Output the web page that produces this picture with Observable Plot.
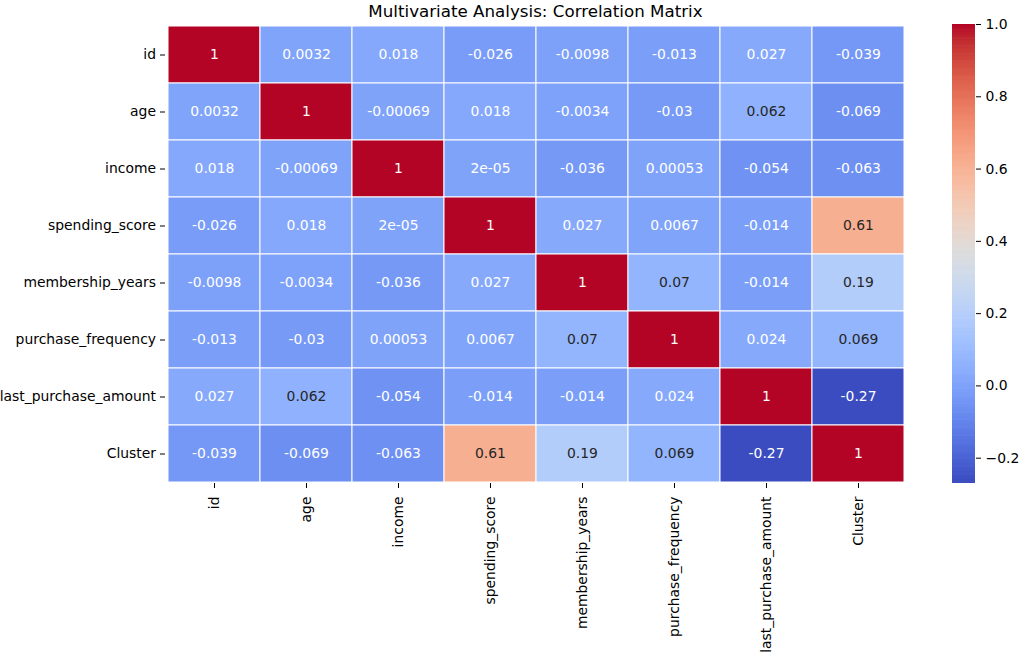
<!DOCTYPE html>
<html>
<head>
<meta charset="utf-8">
<script src="https://cdn.jsdelivr.net/npm/d3@7"></script>
<script src="https://cdn.jsdelivr.net/npm/@observablehq/plot@0.6"></script>
<style>
  html, body { margin: 0; padding: 0; background: white; }
  #wrap { position: relative; width: 1024px; height: 660px; overflow: hidden; font-family: "DejaVu Sans", sans-serif; }
  #wrap > * { position: absolute; }
  #title { left: 165px; width: 741px; top: 3px; text-align: center; font-size: 16.7px; line-height: 1; color: #000; }
</style>
</head>
<body>
<div id="wrap">
  <div id="title">Multivariate Analysis: Correlation Matrix</div>
</div>
<script>
const variables = ["id", "age", "income", "spending_score", "membership_years", "purchase_frequency", "last_purchase_amount", "Cluster"];

const rowId          = [1, 0.0032, 0.018, -0.026, -0.0098, -0.013, 0.027, -0.039];
const rowAge         = [0.0032, 1, -0.00069, 0.018, -0.0034, -0.03, 0.062, -0.069];
const rowIncome      = [0.018, -0.00069, 1, 2e-05, -0.036, 0.00053, -0.054, -0.063];
const rowSpending    = [-0.026, 0.018, 2e-05, 1, 0.027, 0.0067, -0.014, 0.61];
const rowMembership  = [-0.0098, -0.0034, -0.036, 0.027, 1, 0.07, -0.014, 0.19];
const rowFrequency   = [-0.013, -0.03, 0.00053, 0.0067, 0.07, 1, 0.024, 0.069];
const rowLastAmount  = [0.027, 0.062, -0.054, -0.014, -0.014, 0.024, 1, -0.27];
const rowCluster     = [-0.039, -0.069, -0.063, 0.61, 0.19, 0.069, -0.27, 1];

const colorbarTicks = [-0.2, 0.0, 0.2, 0.4, 0.6, 0.8, 1.0];

// matplotlib "coolwarm" control points (33 evenly spaced stops)
const cwRed = [0.2298057, 0.26623388, 0.30386891, 0.342804478, 0.38301334, 0.424369608, 0.46666708, 0.509635204, 0.552953156, 0.596262162, 0.639176211, 0.681291281, 0.722193294, 0.761464949, 0.798691636, 0.833466556, 0.865395197, 0.897787179, 0.924127593, 0.944468518, 0.958852946, 0.96732803, 0.969954137, 0.966811177, 0.958003065, 0.943660866, 0.923944917, 0.89904617, 0.869186849, 0.834620542, 0.795631745, 0.752534934, 0.705673158];
const cwGreen = [0.298717966, 0.353094838, 0.406535296, 0.458757618, 0.50941904, 0.558148092, 0.604562568, 0.648280772, 0.688929332, 0.726149107, 0.759599947, 0.788964712, 0.813952739, 0.834302879, 0.849786142, 0.860207984, 0.86541021, 0.848937047, 0.827384882, 0.800927443, 0.769767752, 0.734132809, 0.694266682, 0.650421156, 0.602842431, 0.551750968, 0.49730856, 0.439559467, 0.378313092, 0.312874446, 0.24128379, 0.157246067, 0.01555616];
const cwBlue = [0.753683153, 0.801466763, 0.84495867, 0.883725899, 0.917387822, 0.945619588, 0.968154911, 0.98478814, 0.995375608, 0.999836203, 0.998151185, 0.990363227, 0.976574709, 0.956945269, 0.931688648, 0.901068838, 0.865395561, 0.820880546, 0.774508472, 0.726736146, 0.678007945, 0.628751763, 0.579375448, 0.530263762, 0.481775914, 0.434243684, 0.387970225, 0.343229596, 0.300267182, 0.259301199, 0.220525627, 0.184115123, 0.150232812];

const matrix = [rowId, rowAge, rowIncome, rowSpending, rowMembership, rowFrequency, rowLastAmount, rowCluster];
const cells = [];
matrix.forEach((row, i) => row.forEach((v, j) => cells.push({x: variables[j], y: variables[i], v})));

const vmin = d3.min(cells, d => d.v), vmax = d3.max(cells, d => d.v);

function cwRGB(t) {
  // quantize to a 256-entry lookup table like matplotlib
  const idx = Math.max(0, Math.min(255, Math.floor(t * 256)));
  const u = idx / 255;
  const p = u * (cwRed.length - 1);
  const k = Math.min(cwRed.length - 2, Math.floor(p));
  const f = p - k;
  const lerp = arr => arr[k] + (arr[k + 1] - arr[k]) * f;
  return [lerp(cwRed), lerp(cwGreen), lerp(cwBlue)];
}
const cw = t => {
  const [r, g, b] = cwRGB(t);
  return d3.rgb(Math.round(r * 255), Math.round(g * 255), Math.round(b * 255)).formatHex();
};
const norm = v => (v - vmin) / (vmax - vmin);

function fmt(v) {
  if (v === 0) return "0";
  const e = Math.floor(Math.log10(Math.abs(v)));
  if (e < -4) {
    let [m, ex] = v.toExponential(1).split("e");
    if (m.includes(".")) m = m.replace(/\.?0+$/, "");
    const sign = ex[0] === "-" ? "-" : "+";
    const digits = ex.replace(/^[-+]/, "").padStart(2, "0");
    return m + "e" + sign + digits;
  }
  let s = v.toPrecision(2);
  if (s.includes(".")) s = s.replace(/\.?0+$/, "");
  return s;
}

function lum(t) {
  const f = x => x <= 0.03928 ? x / 12.92 : Math.pow((x + 0.055) / 1.055, 2.4);
  const [r, g, b] = cwRGB(t);
  return 0.2126 * f(r) + 0.7152 * f(g) + 0.0722 * f(b);
}
const isDark = d => lum(norm(d.v)) <= 0.408;

const colorScale = {type: "linear", domain: [vmin, vmax], interpolate: cw};
const fontStyle = {fontFamily: "DejaVu Sans", fontSize: "13.9px", background: "transparent", color: "#000", overflow: "visible"};

const main = Plot.plot({
  width: 930, height: 660,
  marginLeft: 165, marginRight: 24, marginTop: 24, marginBottom: 177,
  style: fontStyle,
  x: {domain: variables, padding: 0, label: null},
  y: {domain: variables, padding: 0, label: null},
  color: colorScale,
  marks: [
    Plot.cell(cells, {x: "x", y: "y", fill: "v", stroke: "white", strokeWidth: 1}),
    Plot.text(cells.filter(isDark), {x: "x", y: "y", text: d => fmt(d.v), fill: "white", fontSize: 13.9}),
    Plot.text(cells.filter(d => !isDark(d)), {x: "x", y: "y", text: d => fmt(d.v), fill: "#262626", fontSize: 13.9}),
    Plot.axisX({anchor: "bottom", tickRotate: -90, tickSize: 5, tickPadding: 8, label: null, fill: "#000"}),
    Plot.axisY({anchor: "left", tickSize: 5, tickPadding: 4.5, label: null, fill: "#000"})
  ]
});

const nSteps = 400;
const step = (vmax - vmin) / nSteps;
const gradient = d3.range(nSteps).map(i => vmin + i * step);

const bar = Plot.plot({
  width: 72, height: 660,
  marginLeft: 0, marginRight: 49, marginTop: 24, marginBottom: 177,
  style: fontStyle,
  x: {domain: [0, 1], axis: null},
  y: {domain: [vmin, vmax], label: null},
  color: colorScale,
  marks: [
    Plot.rect(gradient, {x1: 0, x2: 1, y1: d => d, y2: d => Math.min(vmax, d + step * 1.6), fill: d => d}),
    Plot.axisY({anchor: "right", ticks: colorbarTicks, tickFormat: d3.format(".1f"), tickSize: 5, tickPadding: 5, label: null, fill: "#000"})
  ]
});

const wrap = document.getElementById("wrap");
main.style.left = "0px"; main.style.top = "0px";
bar.style.left = "952px"; bar.style.top = "0px";
wrap.appendChild(main);
wrap.appendChild(bar);
</script>
</body>
</html>
